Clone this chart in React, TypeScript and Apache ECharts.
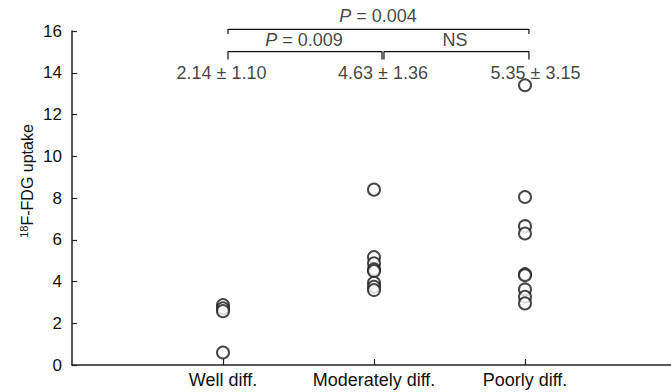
import React, { useEffect, useRef } from "react";
import * as echarts from "echarts";

const categories = ["Well diff.", "Moderately diff.", "Poorly diff."];
const wellValues = [2.87, 2.72, 2.58, 0.6];
const moderateValues = [8.4, 5.17, 4.87, 4.58, 4.5, 3.94, 3.75, 3.59];
const poorValues = [13.4, 8.05, 6.65, 6.3, 4.35, 4.3, 3.62, 3.27, 2.95];
const meanLabels = ["2.14 ± 1.10", "4.63 ± 1.36", "5.35 ± 3.15"];
const meanLabelPos = [[0.99, 14.0], [2.06, 14.0], [3.07, 14.0]];
// brackets: [xStart, xEnd, yTop, yDown]
const brackets = [
  [1.033, 3.026, 16.08, 15.86],
  [1.033, 2.053, 15.01, 14.64],
  [2.066, 3.026, 15.01, 14.64],
];
const bracketLabels = ["{i|P} = 0.004", "{i|P} = 0.009", "NS"];
const bracketLabelPos = [[2.026, 16.72], [1.536, 15.57], [2.536, 15.57]];
const yTicks = [0, 2, 4, 6, 8, 10, 12, 14, 16];

const FONT = "'Liberation Sans', Arial, Helvetica, sans-serif";
const INK = "#111";
const FS = 18;

export default function App() {
  const ref = useRef<HTMLDivElement>(null);
  useEffect(() => {
    if (!ref.current) return;
    const chart = echarts.init(ref.current, undefined, { renderer: "svg" });
    const groups = [wellValues, moderateValues, poorValues];
    const points: number[][] = [];
    groups.forEach((g, i) => g.forEach((v) => points.push([i + 1, v])));

    const bracketSeries = brackets.map((b) => ({
      type: "line",
      data: [
        [b[0], b[3]],
        [b[0], b[2]],
        [b[1], b[2]],
        [b[1], b[3]],
      ],
      symbol: "none",
      clip: false,
      silent: true,
      lineStyle: { color: INK, width: 1.2 },
      z: 3,
    }));

    const textData = [
      ...meanLabelPos.map((p, i) => ({ value: p, label: meanLabels[i] })),
      ...bracketLabelPos.map((p, i) => ({ value: p, label: bracketLabels[i] })),
    ];

    chart.setOption({
      animation: false,
      grid: { left: 72, right: 0, top: 31, bottom: 27, containLabel: false },
      xAxis: {
        type: "value",
        min: 0,
        max: 3.967,
        interval: 1,
        splitLine: { show: false },
        axisLine: { show: true, lineStyle: { color: "#222", width: 1.5 } },
        axisTick: {
          show: true,
          inside: true,
          length: 6,
          lineStyle: { color: "#222", width: 1.2 },
          customValues: [1, 2, 3],
        },
        axisLabel: {
          customValues: [1, 2, 3],
          formatter: (v: number) => categories[Math.round(v) - 1] ?? "",
          color: INK,
          fontFamily: FONT,
          fontSize: FS,
          margin: 6,
        },
      },
      yAxis: {
        type: "value",
        min: 0,
        max: 16,
        interval: 2,
        splitLine: { show: false },
        axisLine: { show: true, lineStyle: { color: "#222", width: 1.5 } },
        axisTick: {
          show: true,
          inside: true,
          length: 5,
          lineStyle: { color: "#222", width: 1.2 },
        },
        axisLabel: {
          color: INK,
          fontFamily: FONT,
          fontSize: 17,
          margin: 10,
          formatter: (v: number) => (yTicks.includes(v) ? String(v) : ""),
        },
      },
      graphic: [
        {
          type: "text",
          x: 27,
          y: 181,
          rotation: Math.PI / 2,
          style: {
            text: "{sup|18}{n|F-FDG uptake}",
            align: "center",
            verticalAlign: "middle",
            fill: INK,
            rich: {
              sup: { fontSize: 11, fontFamily: FONT, fill: INK, padding: [0, 0, 7, 0] },
              n: { fontSize: 16, fontFamily: FONT, fill: INK },
            },
          },
        },
      ],
      series: [
        {
          type: "scatter",
          data: points,
          symbol: "emptyCircle",
          symbolSize: 12,
          itemStyle: { color: "#1a1a1a", borderColor: "#1a1a1a", borderWidth: 1.2 },
          z: 4,
        },
        ...bracketSeries,
        {
          type: "scatter",
          data: textData.map((d) => ({ value: d.value, name: d.label })),
          symbolSize: 0,
          clip: false,
          silent: true,
          label: {
            show: true,
            position: "inside",
            formatter: (p: any) => p.name,
            color: INK,
            fontFamily: FONT,
            fontSize: FS,
            rich: {
              i: { fontStyle: "italic", fontFamily: FONT, fontSize: FS, color: INK },
            },
          },
          z: 5,
        },
      ],
    });
    return () => chart.dispose();
  }, []);
  return (
    <div
      ref={ref}
      style={{ position: "fixed", left: 0, top: 0, width: 671, height: 392, background: "#fff" }}
    />
  );
}
